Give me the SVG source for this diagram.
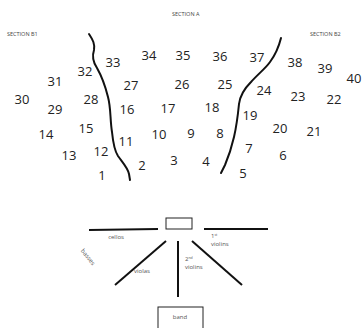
<svg xmlns="http://www.w3.org/2000/svg" width="364" height="328" viewBox="0 0 364 328">
<style>
.n{font-family:"Open Sans","Liberation Sans",sans-serif;font-size:13px;fill:#222;text-anchor:middle}
.s{font-family:"Open Sans","Liberation Sans",sans-serif;font-size:5.5px;fill:#444}
.c{font-family:"Open Sans","Liberation Sans",sans-serif;font-size:6px;fill:#555}
.curve{fill:none;stroke:#111;stroke-width:2;stroke-linecap:round;stroke-linejoin:round}
.ln{stroke:#111;stroke-width:2;fill:none}
.box{fill:#fff;stroke:#222;stroke-width:1}
</style>
<rect width="364" height="328" fill="#fff"/>
<g id="section-labels">
<text class="s" x="172" y="16">SECTION A</text>
<text class="s" x="7" y="36">SECTION B1</text>
<text class="s" x="310" y="36">SECTION B2</text>
</g>
<g id="dividers">
<path class="curve" d="M89,34 C93,40 95,44 94,50 C92,56 93,62 97,68 C101,75 105,85 108,97 C111,108 110,120 112,132 C113,142 114,150 118,156 C123,163 128,168 129,174 L130,180"/>
<path class="curve" d="M281,38 C279,46 276,54 270,62 C265,69 258,74 251,82 C244,89 240,96 239,104 C238,114 237,124 234,137 C231,150 228,158 225,165 L221,173"/>
</g>
<g id="seats">
<text class="n" x="22" y="104">30</text>
<text class="n" x="55" y="86">31</text>
<text class="n" x="85" y="76">32</text>
<text class="n" x="113" y="67">33</text>
<text class="n" x="149" y="60">34</text>
<text class="n" x="183" y="60">35</text>
<text class="n" x="220" y="61">36</text>
<text class="n" x="257" y="62">37</text>
<text class="n" x="295" y="67">38</text>
<text class="n" x="325" y="73">39</text>
<text class="n" x="354" y="83">40</text>
<text class="n" x="55" y="114">29</text>
<text class="n" x="91" y="104">28</text>
<text class="n" x="131" y="90">27</text>
<text class="n" x="182" y="89">26</text>
<text class="n" x="225" y="89">25</text>
<text class="n" x="264" y="95">24</text>
<text class="n" x="298" y="101">23</text>
<text class="n" x="334" y="104">22</text>
<text class="n" x="127" y="114">16</text>
<text class="n" x="168" y="113">17</text>
<text class="n" x="212" y="112">18</text>
<text class="n" x="250" y="120">19</text>
<text class="n" x="46" y="139">14</text>
<text class="n" x="86" y="133">15</text>
<text class="n" x="126" y="146">11</text>
<text class="n" x="159" y="139">10</text>
<text class="n" x="191" y="138">9</text>
<text class="n" x="220" y="138">8</text>
<text class="n" x="280" y="133">20</text>
<text class="n" x="314" y="136">21</text>
<text class="n" x="69" y="160">13</text>
<text class="n" x="101" y="156">12</text>
<text class="n" x="249" y="153">7</text>
<text class="n" x="283" y="160">6</text>
<text class="n" x="142" y="170">2</text>
<text class="n" x="174" y="165">3</text>
<text class="n" x="206" y="166">4</text>
<text class="n" x="243" y="178">5</text>
<text class="n" x="102" y="180">1</text>
</g>
<g id="connectors">
<line class="ln" x1="89" y1="230" x2="158" y2="229"/>
<line class="ln" x1="204" y1="229" x2="268" y2="229"/>
<line class="ln" x1="166" y1="241" x2="115" y2="285"/>
<line class="ln" x1="178" y1="241" x2="178" y2="297"/>
<line class="ln" x1="192" y1="241" x2="242" y2="285"/>
</g>
<g id="podium"><rect class="box" x="166" y="218" width="26" height="11"/></g>
<g id="band"><rect class="box" x="158" y="307" width="45" height="30"/><text class="c" x="180" y="319" text-anchor="middle">band</text></g>
<g id="orchestra-labels">
<text class="c" x="116" y="239" text-anchor="middle">cellos</text>
<text class="c" x="88" y="259" text-anchor="middle" transform="rotate(52 88 257)">basses</text>
<text class="c" x="142" y="273" text-anchor="middle">violas</text>
<text class="c" x="211" y="238">1<tspan font-size="3.5" dy="-2">st</tspan></text>
<text class="c" x="211" y="246">violins</text>
<text class="c" x="185" y="261">2<tspan font-size="3.5" dy="-2">nd</tspan></text>
<text class="c" x="185" y="269">violins</text>
</g>
</svg>
